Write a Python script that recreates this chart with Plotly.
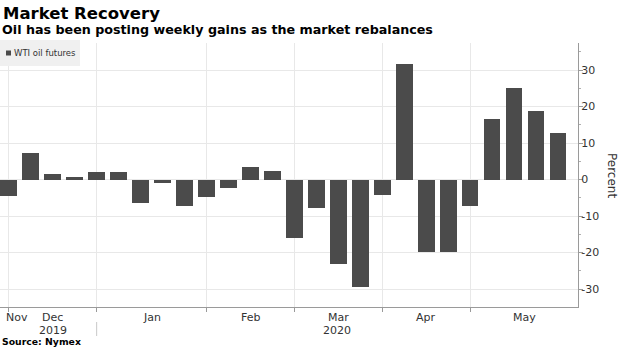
import plotly.graph_objects as go

# ---- data ----
week_dates = [
    "2019-11-29", "2019-12-06", "2019-12-13", "2019-12-20", "2019-12-27",
    "2020-01-03", "2020-01-10", "2020-01-17", "2020-01-24", "2020-01-31",
    "2020-02-07", "2020-02-14", "2020-02-21", "2020-02-28",
    "2020-03-06", "2020-03-13", "2020-03-20", "2020-03-27",
    "2020-04-03", "2020-04-09", "2020-04-17", "2020-04-24",
    "2020-05-01", "2020-05-08", "2020-05-15", "2020-05-22",
]
wti_weekly_change = [
    -4.4, 7.2, 1.4, 0.7, 2.0, 2.1, -6.4, -0.9, -7.3, -4.8,
    -2.3, 3.4, 2.4, -16.1, -7.8, -23.0, -29.3, -4.2, 31.6, -19.7,
    -19.7, -7.3, 16.7, 25.0, 18.8, 12.8,
]
month_end_weeks = ["2019-11-29", "2019-12-27", "2020-01-31", "2020-02-28",
                   "2020-03-27", "2020-04-24"]
month_labels = ["Nov", "Dec", "Jan", "Feb", "Mar", "Apr", "May"]
year_labels = ["2019", "2020"]
y_tick_values = [-30, -20, -10, 0, 10, 20, 30]
y_tick_labels = ["-30", "-20", "-10", "0", "10", "20", "30"]

# ---- geometry ----
W, H = 620, 348
ML, MR, MT, MB = 0, 42, 43, 41
PW, PH = W - ML - MR, H - MT - MB
X_RANGE = [-0.4, 25.91]
Y_RANGE = [-34.9, 37.4]


def px(x):
    return (x - ML) / PW


def py(y):
    return (H - MB - y) / PH


BAR_COLOR = "#4b4b4b"
GRID = "#e8e8e8"
TEXT = "#222222"
FONT = "DejaVu Sans"

fig = go.Figure()
fig.add_trace(go.Bar(
    x=week_dates, y=wti_weekly_change, marker=dict(color=BAR_COLOR, line=dict(width=0)),
    width=0.76, name="WTI oil futures", showlegend=False,
))

tick_idx = [week_dates.index(d) for d in month_end_weeks]

fig.update_layout(
    width=W, height=H,
    margin=dict(l=ML, r=MR, t=MT, b=MB, pad=0),
    paper_bgcolor="white", plot_bgcolor="white",
    font=dict(family=FONT, color=TEXT, size=11),
    bargap=0,
    xaxis=dict(
        type="category", range=X_RANGE, tickvals=month_end_weeks,
        ticktext=[""] * len(month_end_weeks),
        showgrid=True, gridcolor=GRID, gridwidth=1,
        showline=True, linecolor="#9a9a9a", linewidth=1,
        ticks="outside", ticklen=4, tickcolor="#9a9a9a",
        zeroline=False,
    ),
    yaxis=dict(
        side="right", range=Y_RANGE, tickvals=y_tick_values, ticktext=y_tick_labels,
        showgrid=True, gridcolor=GRID, gridwidth=1, zeroline=False,
        showline=True, linecolor="#9a9a9a", linewidth=1,
        ticks="outside", ticklen=4, tickcolor="#9a9a9a",
        ticklabelstandoff=-4,
        tickfont=dict(size=11, color="#333333"),
        minor=dict(dtick=5, ticks="outside", ticklen=2, tickcolor="#b0b0b0", showgrid=False),
    ),
)

ann = []
# titles
ann.append(dict(text="<b>Market Recovery</b>", x=px(1), y=py(13), xref="paper", yref="paper",
                xanchor="left", yanchor="middle", showarrow=False,
                font=dict(family=FONT, size=16.5, color="#000000")))
ann.append(dict(text="<b>Oil has been posting weekly gains as the market rebalances</b>",
                x=px(0), y=py(30), xref="paper", yref="paper",
                xanchor="left", yanchor="middle", showarrow=False,
                font=dict(family=FONT, size=12.7, color="#000000")))
ann.append(dict(text="<b>Source: Nymex</b>", x=px(0), y=py(341), xref="paper", yref="paper",
                xanchor="left", yanchor="middle", showarrow=False,
                font=dict(family=FONT, size=9.3, color="#000000")))
# legend
ann.append(dict(text="WTI oil futures", x=px(12), y=py(53), xref="paper", yref="paper",
                xanchor="left", yanchor="middle", showarrow=False,
                font=dict(family=FONT, size=8.5, color="#333333")))
# y axis title
ann.append(dict(text="Percent", x=px(612), y=py(175), xref="paper", yref="paper",
                xanchor="center", yanchor="middle", showarrow=False, textangle=90,
                font=dict(family=FONT, size=12, color="#333333")))
# month labels: Nov at left edge, the rest centred between month ticks
bounds = tick_idx + [X_RANGE[1]]
ann.append(dict(text=month_labels[0], x=px(4), y=py(317), xref="paper", yref="paper",
                xanchor="left", yanchor="middle", showarrow=False,
                font=dict(family=FONT, size=11, color="#333333")))
for i, lab in enumerate(month_labels[1:]):
    ann.append(dict(text=lab, x=(bounds[i] + bounds[i + 1]) / 2, y=py(317), xref="x", yref="paper",
                    xanchor="center", yanchor="middle", showarrow=False,
                    font=dict(family=FONT, size=11, color="#333333")))
# year labels
ann.append(dict(text=year_labels[0], x=(bounds[0] + bounds[1]) / 2, y=py(330), xref="x", yref="paper",
                xanchor="center", yanchor="middle", showarrow=False,
                font=dict(family=FONT, size=11, color="#333333")))
ann.append(dict(text=year_labels[1], x=(bounds[1] + bounds[-1]) / 2, y=py(330), xref="x", yref="paper",
                xanchor="center", yanchor="middle", showarrow=False,
                font=dict(family=FONT, size=11, color="#333333")))
fig.update_layout(annotations=ann)

shapes = [
    # legend background
    dict(type="rect", xref="paper", yref="paper", x0=px(0), x1=px(80), y0=py(40), y1=py(66),
         fillcolor="#f0f0f0", line=dict(width=0), layer="above"),
    # legend swatch
    dict(type="rect", xref="paper", yref="paper", x0=px(6), x1=px(11), y0=py(50.5), y1=py(55.5),
         fillcolor=BAR_COLOR, line=dict(width=0), layer="above"),
    # year separator
    dict(type="line", xref="x", yref="paper", x0=month_end_weeks[1], x1=month_end_weeks[1],
         y0=py(322), y1=py(336), line=dict(color="#c8c8c8", width=1)),
]
fig.update_layout(shapes=shapes)

fig.write_html("out.html")
